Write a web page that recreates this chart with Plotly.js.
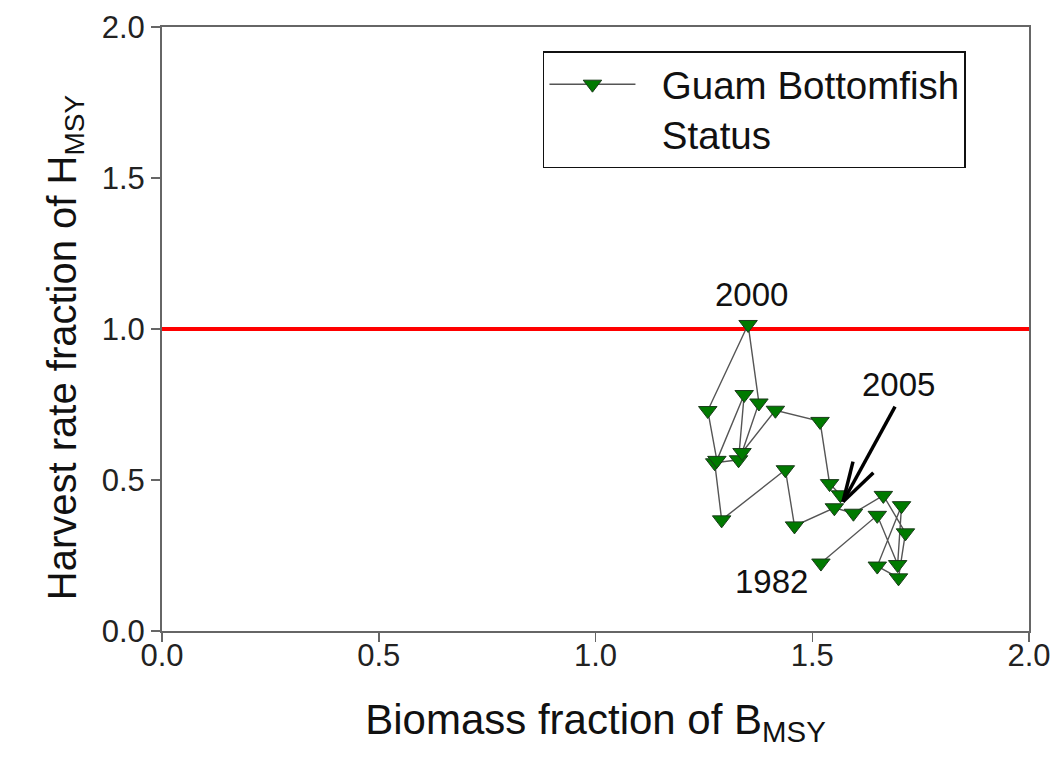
<!DOCTYPE html>
<html>
<head>
<meta charset="utf-8">
<script src="https://cdn.plot.ly/plotly-3.0.1.min.js"></script>
<style>html,body{margin:0;padding:0;background:#fff;}#chart{width:1053px;height:773px;}</style>
</head>
<body>
<div id="chart"></div>
<script>
// Trajectory of Guam bottomfish status (1982 -> 2005)
const biomassFraction = [1.52, 1.650, 1.697, 1.706, 1.650, 1.699, 1.715, 1.664, 1.595, 1.551, 1.459, 1.438, 1.291, 1.275, 1.330, 1.343, 1.280, 1.259, 1.352, 1.377, 1.338, 1.415, 1.518, 1.540, 1.565];
const harvestFraction = [0.225, 0.383, 0.220, 0.415, 0.215, 0.176, 0.325, 0.449, 0.390, 0.408, 0.348, 0.534, 0.368, 0.557, 0.567, 0.783, 0.565, 0.730, 1.015, 0.755, 0.591, 0.731, 0.694, 0.488, 0.451];
const seriesName = "\u00a0\u00a0Guam Bottomfish<br>\u00a0\u00a0Status";
const referenceLevel = [1.0, 1.0];
const referenceX = [0, 2];
const axisTicks = [0, 0.5, 1.0, 1.5, 2.0];
const axisTickLabels = ["0.0", "0.5", "1.0", "1.5", "2.0"];
const yearLabels = ["2000", "2005", "1982"];

const FONT = "Liberation Sans, Arial, sans-serif";

const traces = [
  {
    x: referenceX, y: referenceLevel, mode: "lines",
    line: {color: "#ff0000", width: 4}, showlegend: false, hoverinfo: "skip"
  },
  {
    x: biomassFraction, y: harvestFraction, mode: "lines+markers", name: seriesName,
    line: {color: "#555555", width: 1.4},
    marker: {symbol: "triangle-down", size: 16, color: "#007a00", line: {color: "#1a3a1a", width: 1}}
  }
];

const layout = {
  width: 1053, height: 773,
  margin: {l: 162, r: 24, t: 27, b: 142},
  paper_bgcolor: "#fff", plot_bgcolor: "#fff",
  font: {family: FONT, color: "#111"},
  xaxis: {
    range: [0, 2], tickvals: axisTicks, ticktext: axisTickLabels,
    showgrid: false, zeroline: false, showline: true, mirror: true,
    linecolor: "#666", linewidth: 2, ticks: "outside", ticklen: 9, tickcolor: "#666", tickwidth: 1.5,
    ticklabelstandoff: -13,
    tickfont: {size: 31, family: FONT, color: "#222"},
    title: {text: "Biomass fraction of B<sub>MSY</sub>", font: {size: 42, family: FONT, color: "#111"}, standoff: 32}
  },
  yaxis: {
    range: [0, 2], tickvals: axisTicks, ticktext: axisTickLabels,
    showgrid: false, zeroline: false, showline: true, mirror: true,
    linecolor: "#666", linewidth: 2, ticks: "outside", ticklen: 9, tickcolor: "#666", tickwidth: 1.5,
    tickfont: {size: 31, family: FONT, color: "#222"}
  },
  legend: {
    x: 0.4394, y: 0.96, xanchor: "left", yanchor: "top",
    bgcolor: "#fff", bordercolor: "#111", borderwidth: 1.5,
    font: {size: 38.5, family: FONT, color: "#111"},
    itemwidth: 86, valign: "top", tracegroupgap: 0
  },
  annotations: [
    {xref: "paper", yref: "paper", x: -0.143, y: 0.47, textangle: -90, showarrow: false,
     text: "Harvest rate fraction of H<sub>MSY</sub>", font: {size: 40, family: FONT, color: "#111"}},
    {x: 1.361, y: 1.114, text: yearLabels[0], showarrow: false, font: {size: 33, family: FONT, color: "#111"}},
    {x: 1.699, y: 0.816, text: yearLabels[1], showarrow: false, font: {size: 33, family: FONT, color: "#111"}},
    {x: 1.407, y: 0.164, text: yearLabels[2], showarrow: false, font: {size: 33, family: FONT, color: "#111"}}
  ],
  shapes: [
    {type: "line", xref: "x", yref: "y", x0: 1.691, y0: 0.743, x1: 1.571, y1: 0.428, line: {color: "#000", width: 3.5}},
    {type: "line", xref: "x", yref: "y", x0: 1.594, y0: 0.561, x1: 1.571, y1: 0.428, line: {color: "#000", width: 3.5}},
    {type: "line", xref: "x", yref: "y", x0: 1.641, y0: 0.524, x1: 1.571, y1: 0.428, line: {color: "#000", width: 3.5}}
  ]
};

Plotly.newPlot("chart", traces, layout, {displayModeBar: false, staticPlot: true});
</script>
</body>
</html>
